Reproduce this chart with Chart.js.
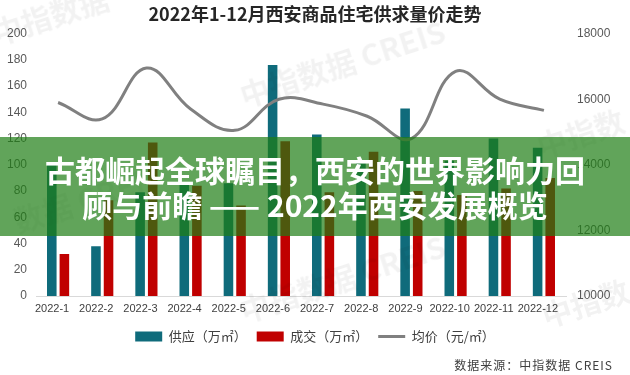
<!DOCTYPE html>
<html>
<head>
<meta charset="utf-8">
<script src="https://cdn.jsdelivr.net/npm/chart.js@4"></script>
<style>
  html, body { margin: 0; padding: 0; background: #fff; }
  #wrap { position: relative; width: 630px; height: 375px; overflow: hidden; }
  canvas { position: absolute; left: 0; top: 0; }
  .wm {
    position: absolute; color: rgba(0, 0, 0, 0.05); font: bold 30px "Noto Sans CJK SC", sans-serif;
    transform: rotate(-18deg); white-space: nowrap; pointer-events: none;
  }
  #banner {
    position: absolute; left: 0; top: 137px; width: 630px; height: 99px;
    background: rgba(30, 125, 20, 0.7);
    color: #fff; font: bold 30px/35px "Noto Sans CJK SC", sans-serif; text-align: center;
    display: flex; flex-direction: column; justify-content: center;
  }
  #source {
    position: absolute; right: 17px; top: 356px; font: 12px "Noto Sans CJK SC", sans-serif;
    color: #404040; letter-spacing: 1px;
  }
</style>
</head>
<body>
<div id="wrap">
  <canvas id="chart" width="630" height="375"></canvas>
  <div class="wm" style="left:-10px; top:-8px;">中指数据</div>
  <div class="wm" style="left:235px; top:40px;">中指数据 CREIS</div>
  <div class="wm" style="left:535px; top:110px;">中指数</div>
  <div class="wm" style="left:10px; top:175px;">数据 CREIS</div>
  <div class="wm" style="left:235px; top:255px;">中指数据 CREIS</div>
  <div class="wm" style="left:540px; top:280px;">中指数</div>
  <div id="banner">
    <div>古都崛起全球瞩目，西安的世界影响力回</div>
    <div>顾与前瞻 —— 2022年西安发展概览</div>
  </div>
  <div id="source">数据来源：中指数据 CREIS</div>
</div>
<script>
// 数据
const meses = ["2022-1", "2022-2", "2022-3", "2022-4", "2022-5", "2022-6",
               "2022-7", "2022-8", "2022-9", "2022-10", "2022-11", "2022-12"];
const gongying = [100, 38, 79, 85, 86, 176, 123, 103, 143, 103, 120, 113];   // 供应（万㎡）
const chengjiao = [32, 73, 117, 84, 69, 118, 79, 110, 80, 77, 82, 90];      // 成交（万㎡）
const junjia = [15900, 15400, 16950, 15700, 15050, 16000, 15850, 15480, 14800, 16850, 16000, 15660]; // 均价（元/㎡）

const tickFont = { family: "'Liberation Sans', Arial, sans-serif", size: 12 };

new Chart(document.getElementById("chart"), {
  type: "bar",
  data: {
    labels: meses,
    datasets: [
      {
        label: "供应（万㎡）",
        data: gongying,
        backgroundColor: "#0f6b7b",
        yAxisID: "y",
        order: 1,
        pointStyle: "rect",
        categoryPercentage: 0.57,
        barPercentage: 0.76
      },
      {
        label: "成交（万㎡）",
        data: chengjiao,
        backgroundColor: "#c00000",
        yAxisID: "y",
        order: 1,
        pointStyle: "rect",
        categoryPercentage: 0.57,
        barPercentage: 0.76
      },
      {
        type: "line",
        label: "均价（元/㎡）",
        data: junjia,
        borderColor: "#808080",
        backgroundColor: "#808080",
        borderWidth: 3,
        pointRadius: 0,
        tension: 0.4,
        yAxisID: "y1",
        order: 0,
        pointStyle: "line"
      }
    ]
  },
  options: {
    responsive: false,
    animation: false,
    layout: { padding: { left: 0, right: 0, top: 0, bottom: 22 } },
    plugins: {
      title: {
        display: true,
        text: "2022年1-12月西安商品住宅供求量价走势",
        color: "#262626",
        font: { family: "'Noto Sans CJK SC', sans-serif", size: 18, weight: "bold" },
        padding: { top: 3, bottom: 9 }
      },
      legend: {
        position: "bottom",
        labels: {
          usePointStyle: true,
          pointStyleWidth: 27,
          boxHeight: 10,
          padding: 10,
          color: "#404040",
          font: { family: "'Noto Sans CJK SC', sans-serif", size: 13 },
          sort: (a, b) => a.datasetIndex - b.datasetIndex
        }
      },
      tooltip: { enabled: false }
    },
    scales: {
      x: {
        grid: { display: false, drawTicks: false },
        border: { color: "#d9d9d9" },
        ticks: { color: "#404040", font: { family: tickFont.family, size: 11 }, maxRotation: 0, autoSkip: false, padding: 6, labelOffset: -6 },
        afterFit: (s) => { s.height = 24; }
      },
      y: {
        position: "left",
        min: 0, max: 200,
        grid: { display: false, drawTicks: false },
        border: { display: false },
        ticks: { stepSize: 20, color: "#595959", font: tickFont, padding: 9 },
        afterFit: (s) => { s.width = 36; }
      },
      y1: {
        position: "right",
        min: 10000, max: 18000,
        grid: { display: false, drawTicks: false },
        border: { display: false },
        ticks: { stepSize: 2000, color: "#595959", font: tickFont, padding: 11, callback: (v) => String(v) },
        afterFit: (s) => { s.width = 64; }
      }
    }
  }
});
</script>
</body>
</html>
